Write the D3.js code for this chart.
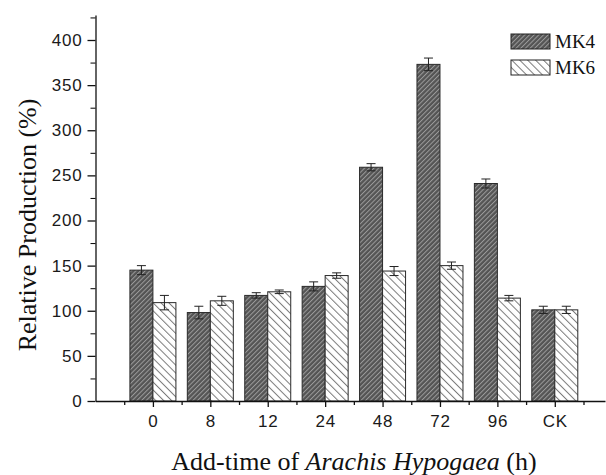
<!DOCTYPE html>
<html>
<head>
<meta charset="utf-8">
<script src="https://cdn.jsdelivr.net/npm/d3@7"></script>
<style>
  body { margin: 0; background: #fff; }
  svg { display: block; }
</style>
</head>
<body>
<div id="chart"></div>
<script>
// data
const categories = ["0", "8", "12", "24", "48", "72", "96", "CK"];
const mk4Values = [145, 98, 117, 127, 259, 373, 241, 101];
const mk4Errors = [5, 7, 3, 5, 4, 7, 5, 4];
const mk6Values = [109, 111, 121, 139, 144, 150, 114, 101];
const mk6Errors = [8, 5, 2, 3, 5, 4, 3, 4];
const yMajorTicks = [0, 50, 100, 150, 200, 250, 300, 350, 400];
const seriesNames = ["MK4", "MK6"];

const width = 606;
const height = 475;
const axisLeft = 95.5;
const axisBottom = 401;
const barWidth = 23;

const svg = d3.select('#chart')
    .append('svg')
    .attr('width', width)
    .attr('height', height);

// hatch patterns
const defs = svg.append('defs');

const pat4 = defs.append('pattern')
    .attr('id', 'hatchMK4')
    .attr('patternUnits', 'userSpaceOnUse')
    .attr('width', 3.3)
    .attr('height', 10)
    .attr('patternTransform', 'rotate(45)');
pat4.append('rect').attr('width', 3.3).attr('height', 10).attr('fill', '#545454');
pat4.append('line')
    .attr('x1', 0.5).attr('y1', 0).attr('x2', 0.5).attr('y2', 10)
    .attr('stroke', '#9c9c9c').attr('stroke-width', 1);

const pat6 = defs.append('pattern')
    .attr('id', 'hatchMK6')
    .attr('patternUnits', 'userSpaceOnUse')
    .attr('width', 5.6)
    .attr('height', 10)
    .attr('patternTransform', 'rotate(-45)');
pat6.append('rect').attr('width', 5.6).attr('height', 10).attr('fill', '#ffffff');
pat6.append('line')
    .attr('x1', 0.5).attr('y1', 0).attr('x2', 0.5).attr('y2', 10)
    .attr('stroke', '#7a7a7a').attr('stroke-width', 1);

// scales
const xScale = d3.scaleLinear()
    .domain([0, categories.length + 0.5])
    .range([axisLeft, 583.5]);

const xAxisScale = xScale.copy()
    .domain([0, xScale.invert(605)])
    .range([axisLeft, 605]);

const yScale = d3.scaleLinear()
    .domain([0, 400])
    .range([axisBottom, 40]);

const yAxisScale = yScale.copy()
    .domain([0, yScale.invert(15)])
    .range([axisBottom, 15]);

const fill = { MK4: 'url(#hatchMK4)', MK6: 'url(#hatchMK6)' };

const barData = [];
categories.forEach((c, i) => {
    barData.push({ cat: c, idx: i + 1, series: 'MK4', value: mk4Values[i], err: mk4Errors[i], offset: -1 });
    barData.push({ cat: c, idx: i + 1, series: 'MK6', value: mk6Values[i], err: mk6Errors[i], offset: 0 });
});

// bars
svg.selectAll('.bar')
    .data(barData)
    .enter()
    .append('rect')
    .attr('class', 'bar')
    .attr('x', d => xScale(d.idx) + d.offset * barWidth)
    .attr('y', d => yScale(d.value))
    .attr('width', barWidth)
    .attr('height', d => yScale(0) - yScale(d.value))
    .attr('fill', d => fill[d.series])
    .attr('stroke', '#2a2a2a')
    .attr('stroke-width', 1);

// error bars
const errG = svg.selectAll('.err')
    .data(barData)
    .enter()
    .append('g')
    .attr('class', 'err')
    .attr('stroke', '#222')
    .attr('stroke-width', 1);

errG.append('line')
    .attr('x1', d => xScale(d.idx) + (d.offset + 0.5) * barWidth)
    .attr('x2', d => xScale(d.idx) + (d.offset + 0.5) * barWidth)
    .attr('y1', d => yScale(d.value + d.err))
    .attr('y2', d => yScale(d.value - d.err));

errG.selectAll('.cap')
    .data(d => [d.value + d.err, d.value - d.err].map(v => ({ v: v, d: d })))
    .enter()
    .append('line')
    .attr('class', 'cap')
    .attr('x1', e => xScale(e.d.idx) + (e.d.offset + 0.5) * barWidth - 4.5)
    .attr('x2', e => xScale(e.d.idx) + (e.d.offset + 0.5) * barWidth + 4.5)
    .attr('y1', e => yScale(e.v))
    .attr('y2', e => yScale(e.v));

// y axis
const yMinor = d3.range(25, 450, 50);
svg.append('g')
    .attr('transform', `translate(${axisLeft},0)`)
    .call(d3.axisLeft(yAxisScale).tickValues(yMinor).tickSize(5).tickSizeOuter(0).tickFormat(''))
    .call(g => g.select('.domain').attr('stroke', '#111').attr('stroke-width', 1.3));

const yAxisG = svg.append('g')
    .attr('transform', `translate(${axisLeft},0)`)
    .call(d3.axisLeft(yScale).tickValues(yMajorTicks).tickSize(8).tickPadding(5))
    .call(g => g.select('.domain').remove());

yAxisG.selectAll('line').attr('stroke', '#111').attr('stroke-width', 1.3);
yAxisG.selectAll('text')
    .style('font-family', '"Liberation Sans", Arial, sans-serif')
    .style('font-size', '17px')
    .style('letter-spacing', '0.8px')
    .attr('fill', '#1a1a1a');

// x axis
const xMinor = d3.range(0.5, categories.length + 1, 1);
svg.append('g')
    .attr('transform', `translate(0,${axisBottom})`)
    .call(d3.axisBottom(xAxisScale).tickValues(xMinor).tickSize(4).tickSizeOuter(0).tickFormat(''))
    .call(g => g.selectAll('line').attr('stroke', '#111').attr('stroke-width', 1.3))
    .call(g => g.select('.domain').attr('stroke', '#111').attr('stroke-width', 1.3));

const xAxisG = svg.append('g')
    .attr('transform', `translate(0,${axisBottom})`)
    .call(d3.axisBottom(xScale)
        .tickValues(d3.range(1, categories.length + 1))
        .tickFormat(i => categories[i - 1])
        .tickSize(6)
        .tickPadding(8))
    .call(g => g.select('.domain').remove());

xAxisG.selectAll('line').attr('stroke', '#111').attr('stroke-width', 1.3);
xAxisG.selectAll('text')
    .style('font-family', '"Liberation Sans", Arial, sans-serif')
    .style('font-size', '17px')
    .style('letter-spacing', '0.8px')
    .attr('fill', '#1a1a1a');

// axis titles
svg.append('text')
    .attr('transform', 'translate(36,225) rotate(-90)')
    .attr('text-anchor', 'middle')
    .style('font-family', '"Liberation Serif", "Times New Roman", serif')
    .style('font-size', '26px')
    .attr('fill', '#111')
    .text('Relative Production (%)');

const xTitle = svg.append('text')
    .attr('x', 354)
    .attr('y', 470)
    .attr('text-anchor', 'middle')
    .style('font-family', '"Liberation Serif", "Times New Roman", serif')
    .style('font-size', '26px')
    .attr('fill', '#111');
xTitle.append('tspan').text('Add-time of ');
xTitle.append('tspan').style('font-style', 'italic').text('Arachis Hypogaea');
xTitle.append('tspan').text(' (h)');

// legend
const legend = svg.append('g')
    .attr('transform', 'translate(511,34)');

const legendItems = legend.selectAll('.legend-item')
    .data(seriesNames)
    .enter()
    .append('g')
    .attr('class', 'legend-item')
    .attr('transform', (d, i) => `translate(0,${i * 26})`);

legendItems.append('rect')
    .attr('width', 39)
    .attr('height', 15)
    .attr('fill', d => fill[d])
    .attr('stroke', '#222')
    .attr('stroke-width', 1);

legendItems.append('text')
    .attr('x', 44)
    .attr('y', 14)
    .style('font-family', '"Liberation Serif", "Times New Roman", serif')
    .style('font-size', '19px')
    .attr('fill', '#111')
    .text(d => d);
</script>
</body>
</html>
